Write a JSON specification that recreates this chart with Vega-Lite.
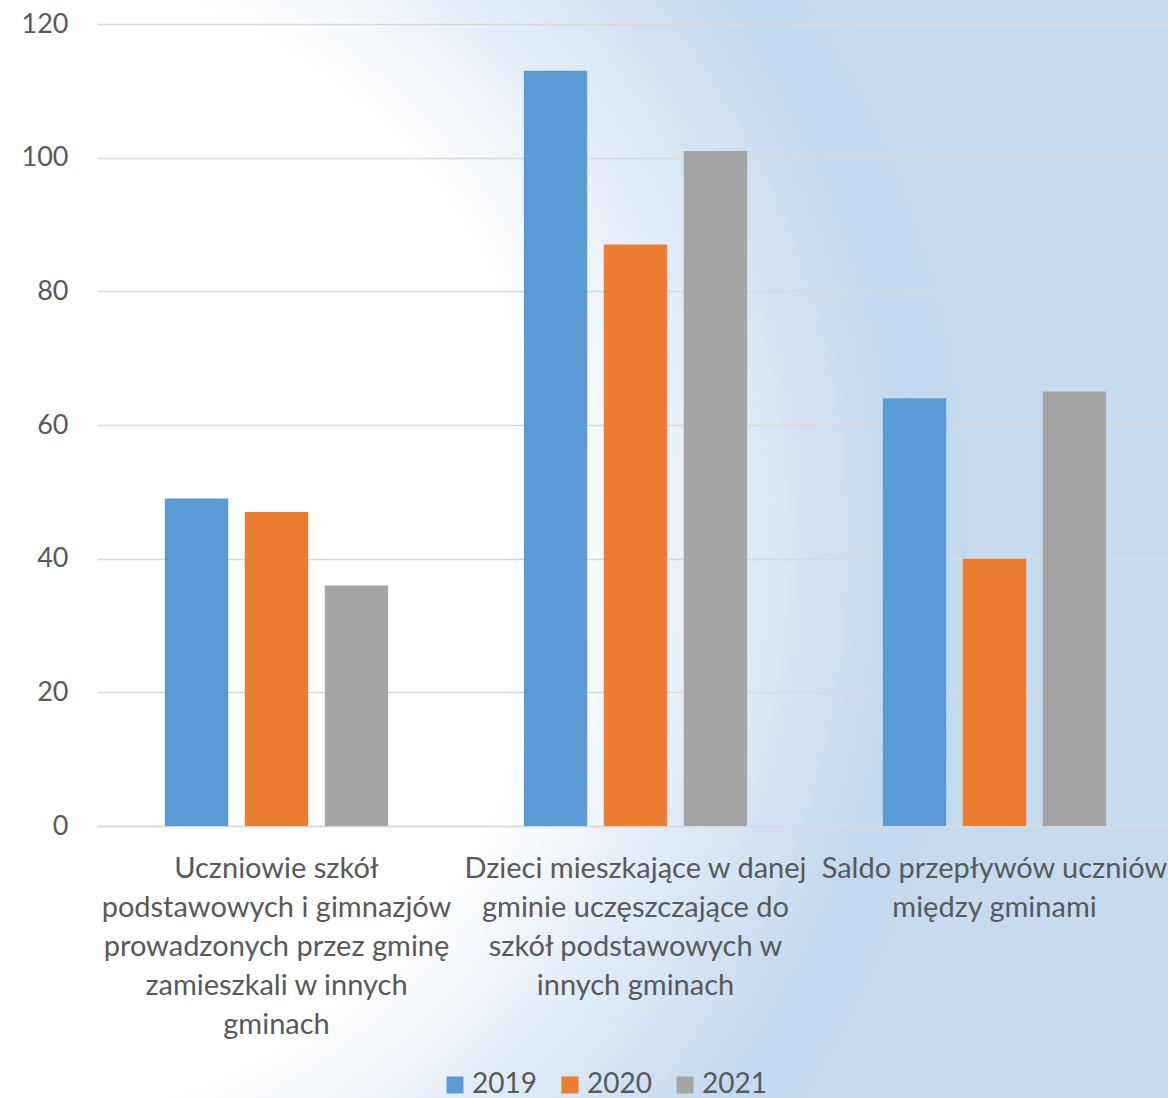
{
  "$schema": "https://vega.github.io/schema/vega-lite/v6.json",
  "width": 1168,
  "height": 1098,
  "autosize": {"type": "none"},
  "padding": 0,
  "background": "#ffffff",
  "view": {
    "stroke": null,
    "fill": {
      "gradient": "radial",
      "x1": -0.0235, "y1": 0.4966, "r1": 0,
      "x2": -0.0235, "y2": 0.4966, "r2": 0.89,
      "stops": [
        {"offset": 0, "color": "#ffffff"},
        {"offset": 0.56, "color": "#ffffff"},
        {"offset": 0.72, "color": "#e2ecf7"},
        {"offset": 0.9, "color": "#c3d9ef"},
        {"offset": 1, "color": "#c6dbf0"}
      ]
    }
  },
  "config": {
    "font": "Lato",
    "axis": {
      "labelColor": "#595959",
      "labelFont": "Lato",
      "labelFontSize": 27,
      "titleColor": "#595959"
    },
    "legend": {
      "labelColor": "#595959",
      "labelFont": "Lato",
      "labelFontSize": 28
    }
  },
  "data": {
    "values": [
      {"kategoria": "Uczniowie szkół podstawowych i gimnazjów prowadzonych przez gminę zamieszkali w innych gminach", "rok": "2019", "wartosc": 49},
      {"kategoria": "Uczniowie szkół podstawowych i gimnazjów prowadzonych przez gminę zamieszkali w innych gminach", "rok": "2020", "wartosc": 47},
      {"kategoria": "Uczniowie szkół podstawowych i gimnazjów prowadzonych przez gminę zamieszkali w innych gminach", "rok": "2021", "wartosc": 36},
      {"kategoria": "Dzieci mieszkające w danej gminie uczęszczające do szkół podstawowych w innych gminach", "rok": "2019", "wartosc": 113},
      {"kategoria": "Dzieci mieszkające w danej gminie uczęszczające do szkół podstawowych w innych gminach", "rok": "2020", "wartosc": 87},
      {"kategoria": "Dzieci mieszkające w danej gminie uczęszczające do szkół podstawowych w innych gminach", "rok": "2021", "wartosc": 101},
      {"kategoria": "Saldo przepływów uczniów między gminami", "rok": "2019", "wartosc": 64},
      {"kategoria": "Saldo przepływów uczniów między gminami", "rok": "2020", "wartosc": 40},
      {"kategoria": "Saldo przepływów uczniów między gminami", "rok": "2021", "wartosc": 65}
    ]
  },
  "mark": {"type": "bar"},
  "encoding": {
    "x": {
      "field": "kategoria",
      "type": "nominal",
      "sort": null,
      "scale": {"range": [97, 1174], "paddingInner": 0.378, "paddingOuter": 0.189},
      "axis": {
        "title": null,
        "offset": -272,
        "labelAngle": 0,
        "ticks": false,
        "domain": true,
        "domainColor": "#d9d9d9",
        "domainWidth": 1.5,
        "labelFontSize": 29,
        "labelPadding": 28,
        "labelLineHeight": 39,
        "labelBaseline": "top",
        "labelLimit": 0,
        "labelExpr": "datum.index < 0.25 ? ['Uczniowie szkół', 'podstawowych i gimnazjów', 'prowadzonych przez gminę', 'zamieszkali w innych', 'gminach'] : datum.index < 0.75 ? ['Dzieci mieszkające w danej', 'gminie uczęszczające do', 'szkół podstawowych w', 'innych gminach'] : ['Saldo przepływów uczniów', 'między gminami']"
      }
    },
    "xOffset": {
      "field": "rok",
      "type": "nominal",
      "scale": {"paddingInner": 0.2075, "paddingOuter": 0}
    },
    "y": {
      "field": "wartosc",
      "type": "quantitative",
      "scale": {"domain": [0, 120], "nice": false, "range": [826, 24]},
      "axis": {
        "title": null,
        "offset": -97,
        "values": [0, 20, 40, 60, 80, 100, 120],
        "ticks": false,
        "domain": false,
        "grid": true,
        "gridColor": "#d9d9d9",
        "gridWidth": 1.5,
        "labelPadding": 29
      }
    },
    "color": {
      "field": "rok",
      "type": "nominal",
      "scale": {"domain": ["2019", "2020", "2021"], "range": ["#5b9bd5", "#ed7d31", "#a5a5a5"]},
      "legend": {
        "title": null,
        "orient": "none",
        "direction": "horizontal",
        "legendX": 441,
        "legendY": 1071,
        "symbolType": "square",
        "symbolSize": 289,
        "symbolStrokeWidth": 0,
        "symbolOpacity": 1,
        "labelOffset": 3,
        "columnPadding": 19
      }
    }
  }
}
